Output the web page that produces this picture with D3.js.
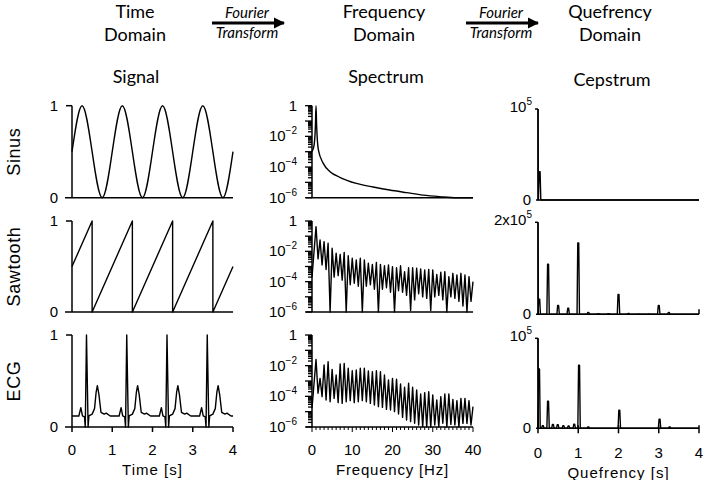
<!DOCTYPE html>
<html>
<head>
<meta charset="utf-8">
<script src="https://cdn.jsdelivr.net/npm/d3@7"></script>
<style>
body { margin: 0; background: #fff; }
svg { display: block; }
</style>
</head>
<body>
<svg id="chart" width="706" height="480"></svg>
<script>
// values
const rowNames = ['Sinus', 'Sawtooth', 'ECG'];
const timeTicks = [0, 1, 2, 3, 4];
const freqTicks = [0, 10, 20, 30, 40];
const quefTicks = [0, 1, 2, 3, 4];

// signals [time s, amplitude]
const sinusSignal = [[0,0.5],[0.25,1],[0.5,0.5],[0.75,0],[1,0.5],[1.25,1],[1.5,0.5],[1.75,0],[2,0.5],
    [2.25,1],[2.5,0.5],[2.75,0],[3,0.5],[3.25,1],[3.5,0.5],[3.75,0],[4,0.5]];
const sawSignal = [[0,0.5],[0.5,1],[0.5,0],[1.5,1],[1.5,0],[2.5,1],[2.5,0],[3.5,1],[3.5,0],[4,0.5]];
const ecgSignal = [
    [0,0.12],[0.17,0.12],[0.22,0.21],[0.26,0.12],[0.31,0.11],[0.33,0],[0.36,1],[0.4,0],[0.42,0.12],[0.5,0.14],[0.56,0.2],[0.6,0.38],[0.63,0.45],[0.67,0.35],[0.72,0.16],[0.8,0.14],[0.85,0.15],[0.95,0.12],
    [1.17,0.12],[1.22,0.21],[1.26,0.12],[1.31,0.11],[1.33,0],[1.36,1],[1.4,0],[1.42,0.12],[1.5,0.14],[1.56,0.2],[1.6,0.38],[1.63,0.45],[1.67,0.35],[1.72,0.16],[1.8,0.14],[1.85,0.15],[1.95,0.12],
    [2.17,0.12],[2.22,0.21],[2.26,0.12],[2.31,0.11],[2.33,0],[2.36,1],[2.4,0],[2.42,0.12],[2.5,0.14],[2.56,0.2],[2.6,0.38],[2.63,0.45],[2.67,0.35],[2.72,0.16],[2.8,0.14],[2.85,0.15],[2.95,0.12],
    [3.17,0.12],[3.22,0.21],[3.26,0.12],[3.31,0.11],[3.33,0],[3.36,1],[3.4,0],[3.42,0.12],[3.5,0.14],[3.56,0.2],[3.6,0.38],[3.63,0.45],[3.67,0.35],[3.72,0.16],[3.8,0.14],[3.85,0.15],[3.95,0.12],
    [4,0.12]];

// spectra, log10 of power
const sinusSpectrum = [[0,-3.0],[0.5,-2.6],[0.85,-1.3],[1,0],[1.15,-1.3],[1.6,-2.9],[2.8,-3.76],[4.5,-4.3],
    [6.9,-4.67],[11,-5.07],[15.2,-5.3],[19.3,-5.5],[23.5,-5.67],[27.6,-5.83],[31.7,-5.93],[35.9,-6],[40,-6]];
// harmonics at 1..39 Hz, troughs at 1.5..39.5 Hz
const sawStart = -3.7, sawEnd = -4.0;
const sawPeaks = [-0.37,-1.25,-1.36,-1.47,-1.8,-2.13,-2.2,-2.07,-2.29,-2.46,-2.57,-2.46,-2.57,-2.79,-2.86,-2.73,
    -2.86,-2.95,-2.9,-3.01,-3.08,-2.95,-3.34,-3.08,-3.08,-3.12,-3.16,-3.23,-3.19,-3.23,-3.52,-3.38,-3.34,-3.67,
    -3.45,-3.56,-3.45,-3.56,-3.67];
const sawTroughs = [-2.5,-2.9,-3.2,-6,-3.7,-3.6,-3.9,-6,-4.2,-4.1,-4.3,-6,-4.3,-4.2,-4.5,-6,-4.5,-4.4,-4.7,-6,
    -4.6,-4.7,-4.9,-5.9,-5.2,-4.8,-5.0,-5.1,-5.9,-5.0,-4.9,-5.2,-6,-5.0,-5.1,-5.3,-5.6,-6,-5.3];
const ecgStart = -4.78, ecgEnd = -4.67;
const ecgPeaks = [-1.59,-2.83,-1.96,-1.74,-2.24,-2.61,-1.89,-1.85,-2.17,-2.33,-2.28,-2.17,-2.17,-2.35,-2.39,-2.33,
    -2.39,-2.61,-2.93,-2.83,-2.89,-3.2,-3.41,-3.15,-3.41,-3.59,-3.85,-3.76,-3.7,-3.91,-4.24,-4.02,-3.85,-3.85,
    -4.2,-4.28,-4.13,-4.13,-4.28];
const ecgTroughs = [-3.8,-4.02,-4.24,-4.35,-4.13,-4.41,-4.46,-4.35,-4.28,-4.41,-4.35,-4.28,-4.35,-4.46,-4.57,-4.67,
    -4.72,-4.85,-4.89,-5.0,-5.15,-5.37,-5.54,-5.65,-5.76,-5.87,-5.98,-6,-6,-5.87,-6,-5.76,-6,-5.83,-5.87,-6,
    -5.76,-5.76,-5.87];

// cepstra: peak quefrency [s] and height [x1e5]
const sinusCepQ = [0.04];
const sinusCepH = [0.31];
const sawCepQ = [0.03,0.25,0.5,0.75,1.0,1.25,1.5,1.75,2.0,2.25,2.5,2.75,3.0,3.25];
const sawCepH = [0.33,1.09,0.19,0.13,1.55,0.04,0.015,0.015,0.43,0.02,0.01,0.01,0.19,0.04];
const ecgCepQ = [0.025,0.12,0.25,0.37,0.49,0.63,0.76,0.9,1.02,1.25,2.02,3.02,3.27];
const ecgCepH = [0.66,0.03,0.3,0.044,0.04,0.03,0.025,0.045,0.7,0.015,0.2,0.1,0.015];
const cepMax = [1, 2, 1];
const cepTopLabel = ['10', '2x10', '10'];

const svg = d3.select('#chart');
const axisFont = '"Liberation Sans", Arial, sans-serif';
const headFont = 'Lato, "Open Sans", sans-serif';

// panel frames
const sigX = d3.scaleLinear().domain([0, 4]).range([72, 233]);
const specX = d3.scaleLinear().domain([0, 40]).range([312, 473]);
const cepX = d3.scaleLinear().domain([0, 4]).range([538, 699]);
const rowsA = [[105.7, 197.7], [221, 312], [335, 427]];
const rowsC = [[109, 200], [222.3, 314.3], [338.3, 428.3]];

// headers
const heads = [
    {x: 135, lines: ['Time', 'Domain']},
    {x: 384, lines: ['Frequency', 'Domain']},
    {x: 610, lines: ['Quefrency', 'Domain']}
];
heads.forEach(h => {
    h.lines.forEach((t, i) => {
        svg.append('text').attr('x', h.x).attr('y', 18 + i * 23)
            .attr('text-anchor', 'middle').attr('font-family', headFont)
            .attr('font-size', 18).text(t);
    });
});
svg.append('defs').append('marker')
    .attr('id', 'arrow')
    .attr('viewBox', '0 -5 10 10')
    .attr('refX', 9).attr('refY', 0)
    .attr('markerWidth', 4).attr('markerHeight', 4)
    .attr('orient', 'auto')
    .append('path').attr('d', 'M0,-5L10,0L0,5Z').attr('fill', '#000');
[[212, 284], [466, 538]].forEach(a => {
    svg.append('line').attr('x1', a[0]).attr('x2', a[1]).attr('y1', 23).attr('y2', 23)
        .attr('stroke', '#000').attr('stroke-width', 2.8).attr('marker-end', 'url(#arrow)');
    const cx = (a[0] + a[1]) / 2 - 1;
    svg.append('text').attr('x', cx).attr('y', 18).attr('text-anchor', 'middle')
        .attr('font-family', headFont).attr('font-style', 'italic').attr('font-size', 15).text('Fourier');
    svg.append('text').attr('x', cx).attr('y', 38).attr('text-anchor', 'middle')
        .attr('font-family', headFont).attr('font-style', 'italic').attr('font-size', 15).text('Transform');
});
[['Signal', 136, 83], ['Spectrum', 386, 83], ['Cepstrum', 612, 86]].forEach(d => {
    svg.append('text').attr('x', d[1]).attr('y', d[2]).attr('text-anchor', 'middle')
        .attr('font-family', headFont).attr('font-size', 18).text(d[0]);
});

// row labels
rowNames.forEach((n, i) => {
    const cy = (rowsA[i][0] + rowsA[i][1]) / 2;
    svg.append('text').attr('transform', `translate(20,${cy}) rotate(-90)`)
        .attr('text-anchor', 'middle').attr('font-family', axisFont).attr('font-size', 18)
        .attr('letter-spacing', 0.6).text(n);
});

const drawLine = (pts, x, y, curve) => {
    svg.append('path')
        .datum(pts)
        .attr('d', d3.line().x(d => x(d[0])).y(d => y(d[1])).curve(curve))
        .attr('fill', 'none')
        .attr('stroke', '#000')
        .attr('stroke-width', 1.4)
        .attr('stroke-linejoin', 'round');
};
const seg = (x1, y1, x2, y2, w) => {
    svg.append('line').attr('x1', x1).attr('y1', y1).attr('x2', x2).attr('y2', y2)
        .attr('stroke', '#000').attr('stroke-width', w || 1.5);
};
const label = (x, y, anchor, main, sup) => {
    const t = svg.append('text').attr('x', x).attr('y', y).attr('text-anchor', anchor)
        .attr('font-family', axisFont).attr('font-size', 15).text(main);
    if (sup) {
        t.append('tspan').attr('dy', -7).attr('font-size', 10).text(sup);
    }
    return t;
};

// ---- time domain ----
const signals = [sinusSignal, sawSignal, ecgSignal];
signals.forEach((s, i) => {
    const y = d3.scaleLinear().domain([0, 1]).range([rowsA[i][1], rowsA[i][0]]);
    seg(sigX(0), y(0), sigX(0), y(1));
    seg(sigX(0) - 6, y(1), sigX(0), y(1));
    seg(sigX(0) - 7, y(0), sigX(4), y(0));
    label(sigX(0) - 14, y(1) + 5, 'end', '1');
    label(sigX(0) - 14, y(0) + 5, 'end', '0');
    drawLine(s, sigX, y, i === 0 ? d3.curveNatural : d3.curveLinear);
    if (i === 2) {
        timeTicks.forEach(t => {
            seg(sigX(t), y(0), sigX(t), y(0) + 5);
            label(sigX(t), 455, 'middle', String(t));
        });
    }
});
svg.append('text').attr('x', sigX(2)).attr('y', 475).attr('text-anchor', 'middle')
    .attr('font-family', axisFont).attr('font-size', 15).attr('letter-spacing', 1).text('Time [s]');

// ---- frequency domain ----
const buildSpec = (start, peaks, troughs, end) => {
    const pts = [[0, start]];
    peaks.forEach((p, k) => {
        pts.push([k + 1, p]);
        pts.push([k + 1.5, troughs[k]]);
    });
    pts.push([40, end]);
    return pts;
};
const spectra = [
    sinusSpectrum,
    buildSpec(sawStart, sawPeaks, sawTroughs, sawEnd),
    buildSpec(ecgStart, ecgPeaks, ecgTroughs, ecgEnd)
];
spectra.forEach((s, i) => {
    const y = d3.scaleLog().domain([1e-6, 1]).range([rowsA[i][1], rowsA[i][0]]).clamp(true);
    const x0 = specX(0);
    seg(x0, y(1e-6), x0, y(1));
    seg(x0 - 6, y(1e-6), specX(40), y(1e-6));
    y.ticks().forEach(t => {
        const major = Math.abs(Math.log10(t) - Math.round(Math.log10(t))) < 1e-6;
        seg(x0 - (major ? 7 : 4), y(t), x0, y(t), 1.3);
    });
    [0, -2, -4, -6].forEach(e => {
        if (e === 0) label(x0 - 15, y(1) + 5, 'end', '1');
        else label(x0 - 15, y(Math.pow(10, e)) + 5, 'end', '10', '\u2212' + (-e));
    });
    drawLine(s.map(d => [d[0], Math.pow(10, d[1])]), specX, y, i === 0 ? d3.curveMonotoneX : d3.curveLinear);
    if (i === 2) {
        d3.range(0, 41).forEach(f => {
            seg(specX(f), y(1e-6), specX(f), y(1e-6) + (f % 10 === 0 ? 5 : 3), 1);
        });
        freqTicks.forEach(f => label(specX(f), 455, 'middle', String(f)));
    }
});
svg.append('text').attr('x', specX(20)).attr('y', 475).attr('text-anchor', 'middle')
    .attr('font-family', axisFont).attr('font-size', 15).attr('letter-spacing', 0.8).text('Frequency [Hz]');

// ---- quefrency domain ----
const buildCep = (qs, hs, top) => {
    const pts = [[0, top], [0.008, 0]];
    qs.forEach((q, k) => {
        pts.push([q - 0.03, 0]);
        pts.push([q - 0.012, hs[k]]);
        pts.push([q + 0.012, hs[k]]);
        pts.push([q + 0.03, 0]);
    });
    pts.push([4, 0]);
    return pts;
};
const cepstra = [
    buildCep(sinusCepQ, sinusCepH, cepMax[0]),
    buildCep(sawCepQ, sawCepH, cepMax[1]),
    buildCep(ecgCepQ, ecgCepH, cepMax[2])
];
cepstra.forEach((s, i) => {
    const y = d3.scaleLinear().domain([0, cepMax[i]]).range([rowsC[i][1], rowsC[i][0]]);
    const x0 = cepX(0);
    seg(x0, y(0), x0, y(cepMax[i]));
    seg(x0 - 3, y(cepMax[i]), x0, y(cepMax[i]));
    seg(x0 - 2, y(0), cepX(4), y(0));
    label(x0 - 6, y(cepMax[i]) + 3, 'end', cepTopLabel[i], '5');
    label(x0 - 7, y(0) + 5, 'end', '0');
    drawLine(s, cepX, y, d3.curveLinear);
    if (i === 1) seg(cepX(4), y(0), cepX(4), y(0) - 5);
    if (i === 2) {
        quefTicks.forEach(q => {
            seg(cepX(q), y(0) - 3, cepX(q), y(0) + 5);
            label(cepX(q), 458, 'middle', String(q));
        });
    }
});
svg.append('text').attr('x', cepX(2)).attr('y', 478).attr('text-anchor', 'middle')
    .attr('font-family', axisFont).attr('font-size', 15).attr('letter-spacing', 1).text('Quefrency [s]');
</script>
</body>
</html>
